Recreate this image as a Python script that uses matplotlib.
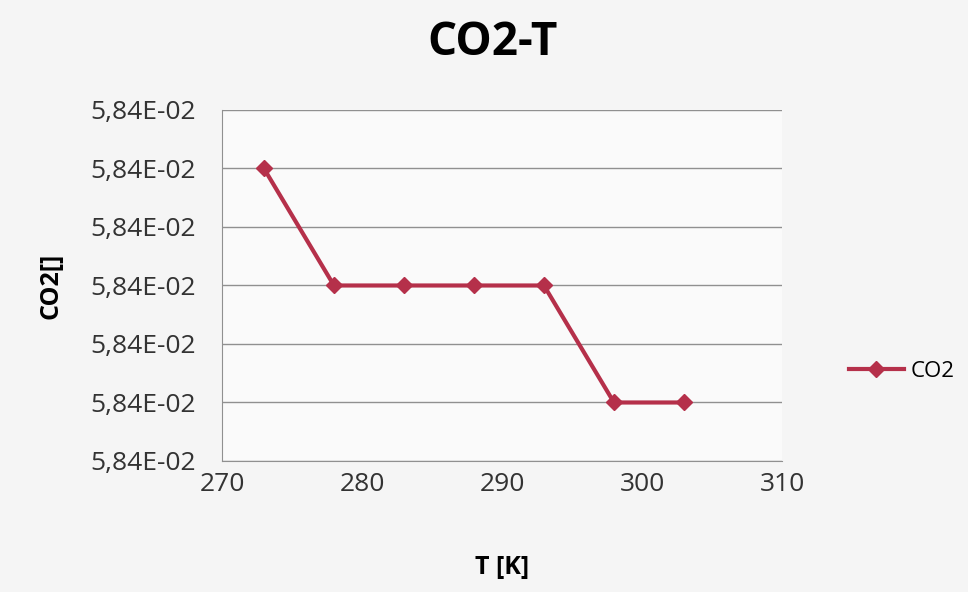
import matplotlib.pyplot as plt
from matplotlib.ticker import FuncFormatter

# Data (all values round to 5,84E-02)
temps = [273, 278, 283, 288, 293, 298, 303]
co2 = [0.0584005, 0.0584003, 0.0584003, 0.0584003, 0.0584003, 0.0584001, 0.0584001]
y_ticks = [0.0584000, 0.0584001, 0.0584002, 0.0584003, 0.0584004, 0.0584005, 0.0584006]
x_ticks = [270, 280, 290, 300, 310]

plt.rcParams['font.family'] = ['Open Sans', 'DejaVu Sans']

fig = plt.figure(figsize=(9.68, 5.92), dpi=100, facecolor='#f5f5f5')
ax = fig.add_axes([0.2293, 0.2213, 0.5785, 0.5929], facecolor='#fafafa')

line_color = '#b5304a'
ax.plot(temps, co2, color=line_color, lw=3, marker='D', markersize=8, label='CO2')

ax.set_xlim(270, 310)
ax.set_ylim(y_ticks[0], y_ticks[-1])
ax.set_xticks(x_ticks)
ax.set_yticks(y_ticks)
ax.yaxis.set_major_formatter(FuncFormatter(lambda v, p: f"{v:.2E}".replace('.', ',')))
ax.tick_params(labelsize=19, length=0, colors='#333333')
ax.tick_params(axis='x', pad=8)
ax.tick_params(axis='y', pad=19)

ax.grid(axis='y', color='#909090', lw=1)
ax.set_axisbelow(True)
for s in ['top', 'right']:
    ax.spines[s].set_visible(False)
for s in ['left', 'bottom']:
    ax.spines[s].set_color('#909090')

fig.text(0.509, 0.929, 'CO2-T', ha='center', va='center', fontsize=33, fontweight='bold')
ax.set_xlabel('T [K]', fontsize=18, fontweight='bold')
ax.set_ylabel('CO2[]', fontsize=18, fontweight='bold')
ax.xaxis.set_label_coords(0.5, -0.302)
ax.yaxis.set_label_coords(-0.305, 0.5)
ax.xaxis.label.set_va('center')
ax.yaxis.label.set_va('center')

fig.legend(loc='center left', bbox_to_anchor=(0.856, 0.372), frameon=False,
           fontsize=16, handlelength=2.5, handletextpad=0.3)

plt.savefig('out.png', dpi=100, facecolor=fig.get_facecolor())
